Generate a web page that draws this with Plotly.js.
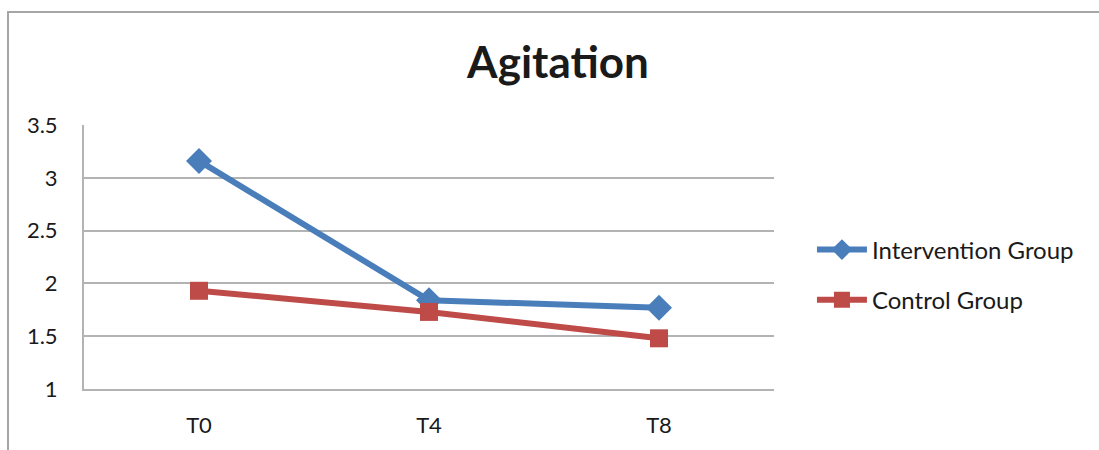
<!DOCTYPE html>
<html>
<head>
<meta charset="utf-8">
<script src="https://cdn.plot.ly/plotly-3.0.1.min.js"></script>
<style>
  html, body { margin: 0; padding: 0; background: #fff; }
  #chart { width: 1099px; height: 450px; }
</style>
</head>
<body>
<div id="chart"></div>
<script>
// Agitation scores at each time point
const timePoints = ["T0", "T4", "T8"];
const interventionGroup = [3.16, 1.84, 1.77];
const controlGroup = [1.93, 1.73, 1.48];
const yTicks = [1, 1.5, 2, 2.5, 3, 3.5];

const font = "Lato, 'Open Sans', 'DejaVu Sans', sans-serif";

const traces = [
  {
    x: timePoints, y: interventionGroup, name: "Intervention Group",
    legendgroup: "intervention",
    type: "scatter", mode: "lines+markers",
    line: { color: "#4A7EBB", width: 6 },
    marker: { symbol: "diamond", size: 20, color: "#4A7EBB" }
  },
  {
    x: timePoints, y: controlGroup, name: "Control Group",
    legendgroup: "control",
    type: "scatter", mode: "lines+markers",
    line: { color: "#BE4B48", width: 6 },
    marker: { symbol: "square", size: 18, color: "#BE4B48" }
  }
];

const layout = {
  width: 1099, height: 450,
  margin: { l: 84, r: 325, t: 125, b: 61 },
  paper_bgcolor: "#fff", plot_bgcolor: "#fff",
  font: { family: font, color: "#1a1a1a", size: 22 },
  title: {
    text: "<b>Agitation</b>",
    font: { family: font, size: 44, color: "#1a1a1a" },
    x: 558 / 1099, xanchor: "center",
    y: 1 - 63 / 450, yanchor: "middle"
  },
  showlegend: true,
  legend: {
    x: 1.055, xanchor: "left",
    y: (389 - 275) / 264, yanchor: "middle",
    font: { family: font, size: 24, color: "#1a1a1a" },
    traceorder: "grouped",
    tracegroupgap: 16,
    itemwidth: 50,
    bgcolor: "rgba(0,0,0,0)"
  },
  xaxis: {
    type: "category",
    range: [-0.5, 2.5],
    showgrid: false,
    showline: true, linecolor: "#b3b3b3", linewidth: 2,
    ticks: "", ticklabelstandoff: 16,
    tickfont: { family: font, size: 22, color: "#1a1a1a" },
    fixedrange: true
  },
  yaxis: {
    range: [1, 3.5],
    tickvals: yTicks,
    ticktext: yTicks.map(String),
    showgrid: true, gridcolor: "#b3b3b3", gridwidth: 2,
    showline: true, linecolor: "#b3b3b3", linewidth: 2,
    zeroline: false,
    ticks: "", ticklabelstandoff: 20,
    tickfont: { family: font, size: 22, color: "#1a1a1a" },
    fixedrange: true
  },
  shapes: [
    {
      type: "rect", xref: "paper", yref: "paper",
      x0: (8 - 84) / 690, x1: 2,
      y0: -1, y1: (389 - 12) / 264,
      line: { color: "#a6a6a6", width: 2 },
      fillcolor: "rgba(0,0,0,0)",
      layer: "below"
    }
  ]
};

Plotly.newPlot("chart", traces, layout, { displayModeBar: false, staticPlot: true });
</script>
</body>
</html>
